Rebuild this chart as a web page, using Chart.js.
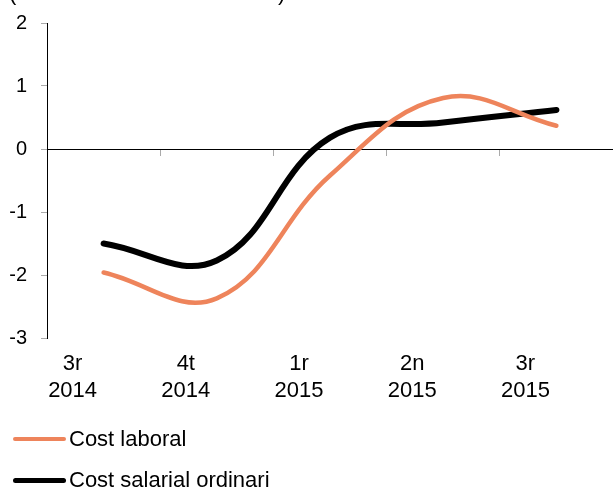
<!DOCTYPE html>
<html lang="ca">
<head>
    <meta charset="UTF-8">
    <title>Cost laboral i cost salarial ordinari</title>
    <script src="https://cdn.jsdelivr.net/npm/chart.js"></script>
    <style>
        body {
            margin: 0;
            background: white;
            font-family: "Liberation Sans", Arial, sans-serif;
        }
        #wrap {
            position: relative;
            width: 613px;
            height: 488px;
            overflow: hidden;
        }
        canvas {
            position: absolute;
            left: 0;
            top: 0;
        }
        .llegenda {
            position: absolute;
            left: 13px;
            display: flex;
            align-items: center;
            font-size: 22px;
            color: black;
            height: 26px;
        }
        .llegenda span {
            display: inline-block;
            width: 53px;
            margin-right: 3px;
            border-radius: 3px;
        }
    </style>
</head>
<body>
    <div id="wrap">
        <canvas id="chart" width="613" height="488"></canvas>
        <div class="llegenda" style="top: 426px;"><span style="height: 4px; background: #EE845B;"></span>Cost laboral</div>
        <div class="llegenda" style="top: 467px;"><span style="height: 5px; background: black;"></span>Cost salarial ordinari</div>
    </div>

    <script>
        const titol = "(Taxa de variació interanual)";
        const trimestres = [["3r", "2014"], ["4t", "2014"], ["1r", "2015"], ["2n", "2015"], ["3r", "2015"]];
        const costLaboral = [-1.96, -2.37, -0.42, 0.81, 0.37];
        const costSalarial = [-1.50, -1.77, 0.18, 0.42, 0.62];

        const fontEix = '"Liberation Sans", Arial, sans-serif';

        // subtitol tallat a dalt (nomes es veuen els parentesis)
        const titolTallat = {
            id: 'titolTallat',
            afterDraw(chart) {
                const ctx = chart.ctx;
                ctx.save();
                ctx.font = '22px ' + fontEix;
                ctx.fillStyle = 'black';
                ctx.textBaseline = 'alphabetic';
                ctx.fillText(titol, 9, 0);
                ctx.restore();
            }
        };

        const ctx = document.getElementById('chart').getContext('2d');
        new Chart(ctx, {
            type: 'line',
            data: {
                labels: trimestres,
                datasets: [
                    {
                        label: 'Cost laboral',
                        data: costLaboral,
                        borderColor: '#EE845B',
                        borderWidth: 4.5,
                        borderCapStyle: 'round',
                        pointRadius: 0,
                        tension: 0.4,
                        clip: false
                    },
                    {
                        label: 'Cost salarial ordinari',
                        data: costSalarial,
                        borderColor: 'black',
                        borderWidth: 6,
                        borderCapStyle: 'round',
                        pointRadius: 0,
                        tension: 0.4,
                        clip: false
                    }
                ]
            },
            options: {
                responsive: false,
                animation: false,
                layout: {
                    padding: { top: 23, bottom: 0, left: 0, right: 0 }
                },
                plugins: {
                    legend: { display: false },
                    tooltip: { enabled: false }
                },
                scales: {
                    x: {
                        position: 'bottom',
                        offset: true,
                        border: { display: false },
                        grid: { display: false, drawTicks: false },
                        ticks: {
                            color: 'black',
                            font: { family: fontEix, size: 22 },
                            maxRotation: 0,
                            autoSkip: false,
                            padding: 13,
                            labelOffset: -31
                        },
                        afterFit(scale) {
                            scale.height = 150;
                        }
                    },
                    // linia del zero amb les marques entre trimestres
                    zero: {
                        type: 'category',
                        axis: 'x',
                        position: { y: 0 },
                        offset: true,
                        border: { display: true, color: 'black', width: 1 },
                        grid: {
                            drawOnChartArea: false,
                            drawTicks: true,
                            tickLength: 6,
                            tickColor: '#aaaaaa',
                            offset: true
                        },
                        ticks: { display: false }
                    },
                    y: {
                        min: -3,
                        max: 2,
                        border: { display: true, color: 'black', width: 1 },
                        grid: {
                            drawOnChartArea: false,
                            drawTicks: true,
                            tickLength: 6,
                            tickColor: '#aaaaaa'
                        },
                        ticks: {
                            stepSize: 1,
                            color: 'black',
                            font: { family: fontEix, size: 20 },
                            padding: 14
                        },
                        afterFit(scale) {
                            scale.width = 47;
                            scale.paddingTop = 0;
                            scale.paddingBottom = 0;
                        }
                    }
                }
            },
            plugins: [titolTallat]
        });
    </script>
</body>
</html>
